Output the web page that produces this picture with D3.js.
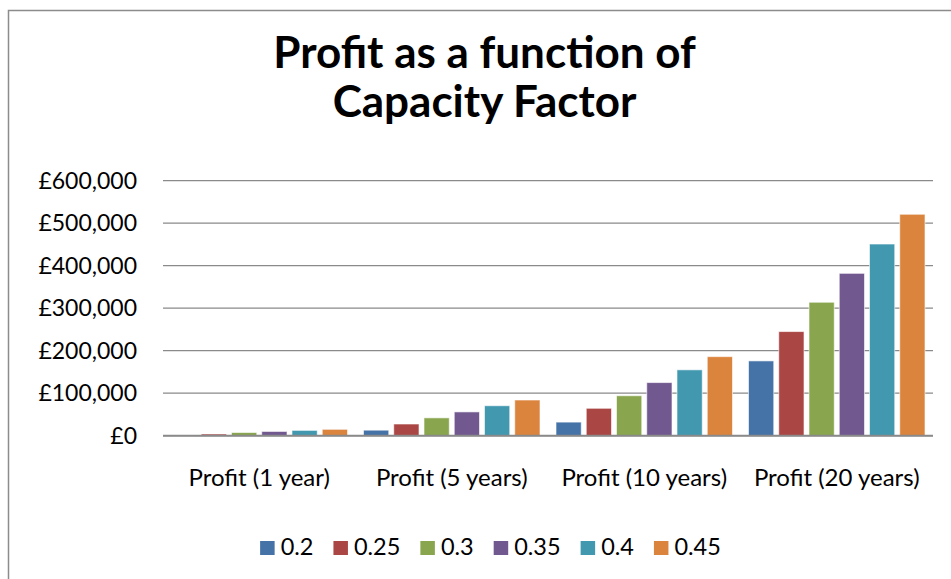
<!DOCTYPE html>
<html>
<head>
<meta charset="utf-8">
<script src="https://cdn.jsdelivr.net/npm/d3@7"></script>
<style>
  html, body { margin: 0; padding: 0; background: #fff; }
  svg { display: block; font-family: Lato, "Open Sans", sans-serif; }
</style>
</head>
<body>
<svg id="viz" width="951" height="579"></svg>
<script>
// categories along the x axis
const periods = ["Profit (1 year)", "Profit (5 years)", "Profit (10 years)", "Profit (20 years)"];
// capacity factors (the series)
const factors = ["0.2", "0.25", "0.3", "0.35", "0.4", "0.45"];
// profit values, one array per capacity factor, in period order
const cf020 = [1500, 13000, 32000, 176000];
const cf025 = [4000, 27500, 64500, 245000];
const cf030 = [7500, 42000, 94000, 314000];
const cf035 = [10000, 56000, 125000, 382000];
const cf040 = [12500, 70500, 155000, 451000];
const cf045 = [15000, 84000, 186000, 521000];
const yTicks = [0, 100000, 200000, 300000, 400000, 500000, 600000];
const colors = ["#4572A7", "#AA4643", "#89A54E", "#71588F", "#4198AF", "#DB843D"];

const seriesValues = [cf020, cf025, cf030, cf035, cf040, cf045];
const table = periods.map((p, i) => ({
  period: p,
  values: factors.map((f, j) => ({ factor: f, value: seriesValues[j][i] }))
}));

const svg = d3.select("#viz");
const margin = { top: 180.7, right: 18, bottom: 143.3, left: 163 };
const width = +svg.attr("width");
const height = +svg.attr("height");

// chart frame (extends past the right and bottom edges)
svg.append("rect")
  .attr("x", 8.5).attr("y", 10.5)
  .attr("width", 1000).attr("height", 1000)
  .attr("fill", "#fff")
  .attr("stroke", "#8c8c8c")
  .attr("stroke-width", 1.5);

// title
const title = svg.append("text")
  .attr("text-anchor", "middle")
  .attr("font-weight", "bold")
  .attr("font-size", 44)
  .attr("fill", "#000");
title.append("tspan").attr("x", 484.5).attr("y", 68).text("Profit as a function of");
title.append("tspan").attr("x", 484.5).attr("y", 117).text("Capacity Factor");

const x0 = d3.scaleBand()
  .domain(periods)
  .range([margin.left, width - margin.right])
  .paddingInner(0)
  .paddingOuter(0);

const x1 = d3.scaleBand()
  .domain(factors)
  .range([8, x0.bandwidth() - 8])
  .paddingInner(0.165)
  .paddingOuter(0);

const y = d3.scaleLinear()
  .domain([0, 600000])
  .range([height - margin.bottom, margin.top]);

// gridlines
svg.append("g")
  .selectAll("line")
  .data(yTicks)
  .join("line")
  .attr("x1", margin.left)
  .attr("x2", width - margin.right)
  .attr("y1", d => y(d))
  .attr("y2", d => y(d))
  .attr("stroke", "#8a8a8a")
  .attr("stroke-width", 1.3);

// y tick labels
const fmt = d3.format(",");
svg.append("g")
  .selectAll("text")
  .data(yTicks)
  .join("text")
  .attr("x", 137)
  .attr("y", d => y(d))
  .attr("dy", "0.36em")
  .attr("text-anchor", "end")
  .attr("font-size", 23)
  .attr("fill", "#000")
  .text(d => "£" + fmt(d));

// bars
const groups = svg.append("g")
  .selectAll("g")
  .data(table)
  .join("g")
  .attr("transform", d => `translate(${x0(d.period)},0)`);

groups.selectAll("rect")
  .data(d => d.values)
  .join("rect")
  .attr("x", d => x1(d.factor))
  .attr("y", d => y(d.value))
  .attr("width", x1.bandwidth())
  .attr("height", d => y(0) - y(d.value))
  .attr("fill", (d, i) => colors[i])
  .attr("stroke", "#fff")
  .attr("stroke-opacity", 0.6)
  .attr("stroke-width", 1);

// baseline on top of bars
svg.append("line")
  .attr("x1", margin.left)
  .attr("x2", width - margin.right)
  .attr("y1", y(0))
  .attr("y2", y(0))
  .attr("stroke", "#8a8a8a")
  .attr("stroke-width", 2);

// category labels
svg.append("g")
  .selectAll("text")
  .data(periods)
  .join("text")
  .attr("x", d => x0(d) + x0.bandwidth() / 2)
  .attr("y", 486)
  .attr("text-anchor", "middle")
  .attr("font-size", 24)
  .attr("fill", "#000")
  .text(d => d);

// legend
const legend = svg.append("g");
const items = legend.selectAll("g")
  .data(factors)
  .join("g");
items.append("rect")
  .attr("width", 14.5)
  .attr("height", 14)
  .attr("y", 541)
  .attr("fill", (d, i) => colors[i]);
items.append("text")
  .attr("x", 20.5)
  .attr("y", 555)
  .attr("font-size", 23.5)
  .attr("fill", "#000")
  .text(d => d);

let lx = 0;
const itemGap = 20;
const offsets = [];
items.each(function () {
  const w = 20.5 + d3.select(this).select("text").node().getComputedTextLength();
  offsets.push(lx);
  lx += w + itemGap;
});
const legendWidth = lx - itemGap;
const legendStart = 490.5 - legendWidth / 2;
items.attr("transform", (d, i) => `translate(${legendStart + offsets[i]},0)`);
</script>
</body>
</html>
